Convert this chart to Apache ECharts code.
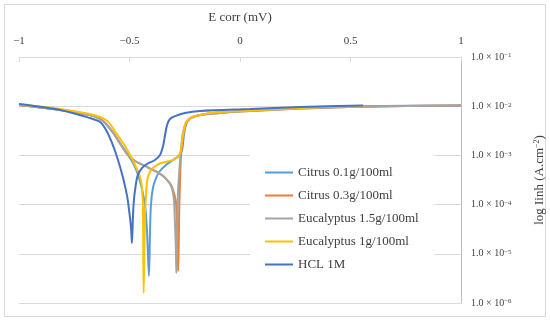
<!DOCTYPE html>
<html>
<head>
<meta charset="utf-8">
<script src="https://cdn.jsdelivr.net/npm/echarts@6/dist/echarts.min.js"></script>
<style>html,body{margin:0;padding:0;background:#fff;}#c{width:550px;height:321px;}</style>
</head>
<body>
<div id="c"></div>
<script>
// E corr (mV) vs current density (A.cm^-2)
const seriesNames = ['Citrus 0.1g/100ml', 'Citrus 0.3g/100ml', 'Eucalyptus 1.5g/100ml', 'Eucalyptus 1g/100ml', 'HCL 1M'];
const xTicks = [-1, -0.5, 0, 0.5, 1];
const yTickExponents = [-1, -2, -3, -4, -5, -6];

const citrus01 = [
  [-1.0, 1.06e-2], [-0.814, 8.4e-3], [-0.679, 6.62e-3], [-0.633, 5.5e-3], [-0.606, 4.35e-3],
  [-0.570, 2.72e-3], [-0.538, 1.63e-3], [-0.507, 1.02e-3], [-0.484, 7.02e-4], [-0.466, 4.6e-4],
  [-0.448, 2.5e-4], [-0.430, 9.8e-5], [-0.421, 3.05e-5], [-0.412, 3.54e-6], [-0.407, 3.05e-5],
  [-0.403, 9.8e-5], [-0.394, 2.17e-4], [-0.380, 3.47e-4], [-0.362, 4.82e-4], [-0.335, 6.38e-4],
  [-0.303, 8.07e-4], [-0.276, 9.73e-4], [-0.262, 1.29e-3], [-0.253, 2.72e-3], [-0.240, 4.78e-3],
  [-0.222, 5.75e-3], [-0.199, 6.32e-3], [-0.136, 7.1e-3], [0.0, 7.98e-3], [0.271, 9.18e-3],
  [0.557, 1.0e-2], [1.0, 1.03e-2]
];
const citrus03 = [
  [-1.0, 1.06e-2], [-0.814, 8.4e-3], [-0.679, 6.62e-3], [-0.633, 5.5e-3], [-0.606, 4.35e-3],
  [-0.570, 2.72e-3], [-0.538, 1.63e-3], [-0.507, 1.02e-3], [-0.475, 7.69e-4], [-0.430, 6.1e-4],
  [-0.385, 4.82e-4], [-0.348, 3.81e-4], [-0.326, 3.02e-4], [-0.312, 2.5e-4], [-0.303, 1.98e-4],
  [-0.294, 1.43e-4], [-0.289, 1.0e-4], [-0.285, 3.85e-5], [-0.282, 1.19e-5], [-0.280, 4.47e-6],
  [-0.277, 1.9e-5], [-0.275, 7.77e-5], [-0.272, 2.5e-4], [-0.268, 8.07e-4], [-0.262, 1.79e-3],
  [-0.253, 3.28e-3], [-0.240, 4.78e-3], [-0.222, 5.75e-3], [-0.181, 6.62e-3], [-0.090, 7.28e-3],
  [0.0, 7.8e-3], [0.271, 8.97e-3], [0.557, 9.8e-3], [1.0, 1.03e-2]
];
const eucalyptus15 = [
  [-1.0, 1.06e-2], [-0.814, 8.4e-3], [-0.679, 6.62e-3], [-0.633, 5.5e-3], [-0.606, 4.35e-3],
  [-0.570, 2.72e-3], [-0.538, 1.63e-3], [-0.507, 1.02e-3], [-0.475, 7.69e-4], [-0.430, 6.1e-4],
  [-0.385, 4.82e-4], [-0.348, 3.81e-4], [-0.326, 3.02e-4], [-0.312, 2.39e-4], [-0.303, 1.72e-4],
  [-0.298, 1.08e-4], [-0.294, 3.85e-5], [-0.290, 1.19e-5], [-0.288, 4.07e-6], [-0.285, 1.9e-5],
  [-0.283, 6.15e-5], [-0.281, 1.57e-4], [-0.276, 4.0e-4], [-0.271, 8.07e-4], [-0.265, 1.63e-3],
  [-0.258, 2.85e-3], [-0.249, 4.15e-3], [-0.235, 5.24e-3], [-0.217, 6.02e-3], [-0.181, 6.62e-3],
  [-0.090, 7.28e-3], [0.0, 7.8e-3], [0.271, 8.97e-3], [0.557, 9.8e-3], [1.0, 1.03e-2]
];
const eucalyptus1 = [
  [-1.0, 1.08e-2], [-0.814, 8.77e-3], [-0.679, 6.93e-3], [-0.633, 6.02e-3], [-0.606, 5.24e-3],
  [-0.584, 4.15e-3], [-0.561, 2.85e-3], [-0.529, 1.79e-3], [-0.502, 1.12e-3], [-0.475, 6.38e-4],
  [-0.452, 3.64e-4], [-0.443, 1.98e-4], [-0.439, 7.76e-5], [-0.436, 1.6e-6], [-0.430, 6.15e-5],
  [-0.425, 1.57e-4], [-0.421, 2.88e-4], [-0.412, 4.19e-4], [-0.394, 5.55e-4], [-0.367, 6.69e-4],
  [-0.339, 7.34e-4], [-0.294, 8.45e-4], [-0.271, 1.12e-3], [-0.258, 2.6e-3], [-0.244, 4.78e-3],
  [-0.226, 5.75e-3], [-0.199, 6.32e-3], [-0.136, 7.28e-3], [0.0, 7.98e-3], [0.271, 9.18e-3],
  [0.557, 1.01e-2]
];
const hcl1M = [
  [-1.0, 1.11e-2], [-0.814, 8.4e-3], [-0.679, 5.75e-3], [-0.633, 4.78e-3], [-0.606, 3.28e-3],
  [-0.579, 1.79e-3], [-0.552, 8.07e-4], [-0.529, 3.47e-4], [-0.511, 1.5e-4], [-0.502, 7.77e-5],
  [-0.493, 3.34e-5], [-0.489, 1.66e-5], [-0.484, 6.15e-5], [-0.480, 1.24e-4], [-0.471, 2.62e-4],
  [-0.462, 4.0e-4], [-0.443, 5.55e-4], [-0.421, 6.69e-4], [-0.385, 8.07e-4], [-0.362, 1.02e-3],
  [-0.348, 1.55e-3], [-0.339, 2.6e-3], [-0.330, 4.15e-3], [-0.317, 5.5e-3], [-0.294, 6.3e-3],
  [-0.249, 7.28e-3], [-0.181, 7.98e-3], [0.045, 8.77e-3], [0.271, 9.64e-3], [0.557, 1.03e-2]
];

const seriesData = [citrus01, citrus03, eucalyptus15, eucalyptus1, hcl1M];
const colors = ['#5B9BD5', '#ED7D31', '#A5A5A5', '#FFC000', '#4472C4'];
const FONT = '"Liberation Serif", "DejaVu Serif", serif';

const chart = echarts.init(document.getElementById('c'), null, {renderer: 'canvas'});
chart.setOption({
  animation: false,
  color: colors,
  graphic: [{
    type: 'rect', z: -10, silent: true,
    shape: {x: 4.5, y: 4.5, width: 541, height: 312},
    style: {fill: '#fff', stroke: '#d9d9d9', lineWidth: 1}
  }],
  grid: {left: 19, right: 89, top: 57, bottom: 18, containLabel: false, outerBoundsMode: 'none'},
  legend: {
    orient: 'vertical',
    left: 250, top: 140,
    padding: [26, 16, 20, 15],
    backgroundColor: '#fff',
    icon: 'path://M0,0H28V2H0Z',
    itemWidth: 28, itemHeight: 12, itemGap: 10,
    textStyle: {fontFamily: FONT, fontSize: 13, color: '#404040'},
    data: seriesNames
  },
  xAxis: {
    type: 'value', position: 'top',
    min: -1, max: 1, interval: 0.5,
    name: 'E corr (mV)', nameLocation: 'middle', nameGap: 33,
    nameTextStyle: {fontFamily: FONT, fontSize: 13, color: '#404040'},
    axisLine: {show: true, onZero: false, lineStyle: {color: '#d9d9d9', width: 1}},
    axisTick: {show: true, inside: true, length: 5, lineStyle: {color: '#d9d9d9'}},
    splitLine: {show: false},
    axisLabel: {
      fontFamily: FONT, fontSize: 11, color: '#404040', margin: 10,
      showMinLabel: true, showMaxLabel: true,
      formatter: function (v) { return (v < 0 ? '\u2212' : '') + Math.abs(v); }
    }
  },
  yAxis: {
    type: 'log', logBase: 10, position: 'right',
    min: 1e-6, max: 1e-1,
    name: 'log Iinh (A.cm{s|\u22122})', nameLocation: 'middle', nameGap: 72, nameRotate: 90,
    nameTextStyle: {
      fontFamily: FONT, fontSize: 13, color: '#404040',
      rich: {s: {fontFamily: FONT, fontSize: 8, color: '#404040', verticalAlign: 'top', lineHeight: 8}}
    },
    axisLine: {show: true, onZero: false, lineStyle: {color: '#bfbfbf', width: 1}},
    axisTick: {show: false},
    splitLine: {show: true, lineStyle: {color: '#d9d9d9', width: 1}},
    axisLabel: {
      margin: 10, fontFamily: FONT, fontSize: 10, color: '#404040',
      formatter: function (v) {
        const n = Math.round(Math.log10(v));
        return '1.0 \u00d7 10{s|\u2212' + Math.abs(n) + '}';
      },
      rich: {s: {fontFamily: FONT, fontSize: 7, color: '#404040', verticalAlign: 'top', lineHeight: 8}}
    }
  },
  series: seriesNames.map(function (name, i) {
    return {
      name: name, type: 'line', data: seriesData[i],
      symbol: 'none', smooth: 0.3,
      lineStyle: {width: 2, color: colors[i]},
      itemStyle: {color: colors[i]}
    };
  })
});
</script>
</body>
</html>
